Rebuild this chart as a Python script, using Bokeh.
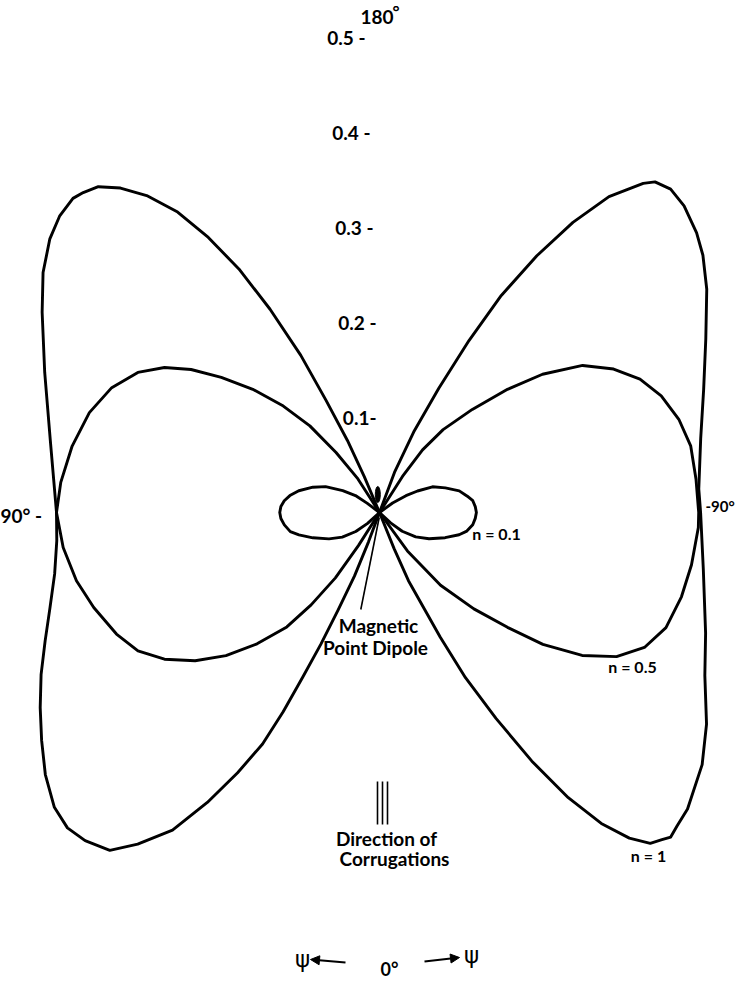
import math
from bokeh.plotting import figure
from bokeh.models import Range1d, Arrow, NormalHead
from bokeh.core.properties import value
from bokeh.embed import file_html
from bokeh.resources import INLINE

# ---------------- data: psi in degrees (0 deg = down, +90 = left, -90 = right), r = radial value
n1_left_psi = [157.5, 157.0, 156.0, 154.5, 153.4, 151.7, 150.0, 148.1, 146.1, 143.7, 141.4, 139.2,
               137.2, 135.7, 132.8, 129.7, 125.5, 120.7, 112.7, 102.5, 90.0, 85.0, 79.3, 73.9,
               69.0, 64.4, 60.1, 56.0, 51.9, 47.8, 44.7, 41.9, 38.6, 36.1, 33.1, 30.7, 28.6,
               26.8, 25.8, 25.0, 24.0, 23.0, 21.5, 20.5, 20.0]
n1_left_r = [0.0, 0.041, 0.083, 0.131, 0.185, 0.243, 0.296, 0.341, 0.381, 0.414, 0.437, 0.453,
             0.459, 0.462, 0.459, 0.451, 0.435, 0.413, 0.382, 0.355, 0.340, 0.341, 0.348, 0.361,
             0.377, 0.395, 0.412, 0.429, 0.447, 0.462, 0.467, 0.464, 0.455, 0.432, 0.399, 0.355, 0.312,
             0.273, 0.233, 0.191, 0.152, 0.112, 0.072, 0.033, 0.0]

n1_right_psi = [-160.0, -159.5, -157.0, -154.5, -152.5, -150.7, -148.5, -146.3, -144.0, -141.3, -140.2,
                -138.0, -135.2, -131.4, -128.5, -124.3, -118.0, -110.8, -103.0, -94.2, -90.0, -80.1,
                -69.7, -63.4, -57.1, -52.0, -46.1, -43.5, -41.9, -40.8, -39.3, -37.5, -35.5, -33.5,
                -31.5, -29.5, -27.5, -26.0, -23.0, -22.0, -21.0]
n1_right_r = [0.0, 0.045, 0.092, 0.145, 0.204, 0.262, 0.317, 0.367, 0.411, 0.444, 0.453,
              0.458, 0.455, 0.445, 0.435, 0.417, 0.389, 0.365, 0.347, 0.337, 0.338, 0.346,
              0.366, 0.383, 0.410, 0.431, 0.450, 0.455, 0.459, 0.455, 0.450, 0.432, 0.402, 0.360,
              0.307, 0.249, 0.196, 0.146, 0.078, 0.041, 0.0]

n05_left_psi = [148.5, 147.3, 144.1, 141.2, 137.9, 134.2, 130.5, 127.2, 124.0, 120.1, 115.0, 109.0,
                102.2, 95.4, 90.0, 83.7, 77.3, 71.6, 65.2, 60.2, 55.7, 51.2, 47.0, 43.0, 39.0,
                36.5, 34.0, 32.5, 32.0]
n05_left_r = [0.0, 0.042, 0.078, 0.117, 0.151, 0.186, 0.219, 0.249, 0.273, 0.294, 0.311, 0.323,
              0.331, 0.337, 0.340, 0.335, 0.327, 0.317, 0.305, 0.293, 0.274, 0.249, 0.221, 0.189, 0.155,
              0.121, 0.083, 0.041, 0.0]

n05_right_psi = [-148.5, -147.5, -145.5, -142.5, -138.0, -133.9, -130.3, -125.9, -121.5, -117.1, -112.5,
                 -107.3, -102.1, -96.0, -90.0, -87.3, -80.5, -74.4, -68.1, -63.0, -58.7, -54.8, -51.1,
                 -48.1, -44.4, -40.0, -36.0, -34.5]
n05_right_r = [0.0, 0.045, 0.080, 0.110, 0.146, 0.187, 0.225, 0.264, 0.289, 0.308, 0.321,
               0.330, 0.335, 0.335, 0.336, 0.336, 0.333, 0.330, 0.325, 0.313, 0.292, 0.261, 0.221,
               0.181, 0.142, 0.100, 0.050, 0.0]

n01_left_psi = [128.0, 126.9, 125.2, 120.7, 115.6, 110.8, 105.1, 100.7, 97.0, 93.5, 90.0, 86.5, 82.6,
                77.9, 74.5, 69.2, 62.4, 56.5, 51.3, 47.5, 46.0]
n01_left_r = [0.0, 0.016, 0.031, 0.045, 0.063, 0.075, 0.088, 0.096, 0.101, 0.104, 0.105, 0.104, 0.101,
              0.096, 0.088, 0.075, 0.060, 0.047, 0.032, 0.017, 0.0]

n01_right_psi = [-128.0, -126.0, -122.4, -119.5, -115.9, -110.5, -105.2, -100.5, -97.2, -93.5, -90.0,
                 -86.5, -82.5, -78.0, -74.4, -69.0, -62.1, -56.0, -50.4, -47.0, -45.0]
n01_right_r = [0.0, 0.017, 0.033, 0.046, 0.062, 0.074, 0.087, 0.094, 0.099, 0.101, 0.102,
               0.101, 0.099, 0.094, 0.087, 0.074, 0.059, 0.046, 0.031, 0.016, 0.0]

radial_ticks = [0.1, 0.2, 0.3, 0.4, 0.5]
radial_tick_labels = ["0.1-", "0.2 -", "0.3 -", "0.4 -", "0.5 -"]
curve_labels = ["n = 0.1", "n = 0.5", "n = 1"]

# ---------------- layout
W, H = 735, 981
SCALE = 950.0            # pixels per radial unit
CX, CY = 387, 520        # centre in page pixels
OFF = 8                  # page margin


def px(X, Y):
    return (X - CX) / SCALE, (CY - Y) / SCALE


def to_xy(psi, r):
    xs = [-ri * math.sin(math.radians(a)) for a, ri in zip(psi, r)]
    ys = [-ri * math.cos(math.radians(a)) for a, ri in zip(psi, r)]
    return xs, ys


p = figure(width=W, height=H, output_backend="svg", toolbar_location=None,
           x_range=Range1d((OFF - CX) / SCALE, (OFF + W - CX) / SCALE),
           y_range=Range1d((CY - OFF - H) / SCALE, (CY - OFF) / SCALE),
           x_axis_location=None, y_axis_location=None, min_border=0)
p.grid.visible = False
p.outline_line_color = None
p.background_fill_color = "white"
p.border_fill_color = "white"

LW = 2.9
for psi, r in [(n1_left_psi, n1_left_r), (n1_right_psi, n1_right_r),
               (n05_left_psi, n05_left_r), (n05_right_psi, n05_right_r),
               (n01_left_psi, n01_left_r), (n01_right_psi, n01_right_r)]:
    xs, ys = to_xy(psi, r)
    p.line(xs, ys, line_color="black", line_width=LW, line_join="round", line_cap="round")

# tiny lobe above the dipole
bx, by = px(385.3, 502)
p.ellipse(x=[bx], y=[by], width=[5 / SCALE], height=[16 / SCALE], fill_color="black", line_color="black")

FONT = value("Lato")

# radial tick labels
tick_right_px = [384, 384, 381, 378, 373]
p.text(x=[(X - CX) / SCALE for X in tick_right_px], y=radial_ticks, text=radial_tick_labels,
       text_font=FONT, text_font_style="bold", text_font_size="19px",
       text_align="right", text_baseline="middle", text_color="black")


def label(X, Y, txt, size="19px", align="center", font=FONT, style="bold", baseline="middle"):
    x, y = px(X, Y)
    p.text(x=[x], y=[y], text=[txt], text_font=font, text_font_style=style,
           text_font_size=size, text_align=align, text_baseline=baseline, text_color="black")


label(368, 24, "180", align="left")
label(400, 8, "°", size="17px", align="left", baseline="top")
label(8, 523, "90° -", align="left")
label(713, 513, "-90°", size="15px", align="left")

label(504, 541, curve_labels[0], size="16px")
label(640, 674, curve_labels[1], size="16px")
label(656, 863, curve_labels[2], size="16px")

label(386, 633, "Magnetic")
label(383, 655, "Point Dipole")
label(394, 846, "Direction of")
label(402, 866, "Corrugations")

# pointer line to the dipole
x0, y0 = px(386.7, 525)
x1, y1 = px(368.3, 617)
p.segment(x0=[x0], y0=[y0], x1=[x1], y1=[y1], line_color="black", line_width=1.6)

# corrugation symbol
for X in (385, 390, 395):
    a0, b0 = px(X, 789)
    a1, b1 = px(X, 832)
    p.segment(x0=[a0], y0=[b0], x1=[a1], y1=[b1], line_color="black", line_width=1.6)

# psi arrows
PSI_FONT = value("DejaVu Sans")
label(310, 966, "ψ", size="23px", font=PSI_FONT, style="normal")
label(479, 962, "ψ", size="23px", font=PSI_FONT, style="normal")
sx, sy = px(353, 970)
ex, ey = px(318, 967)
p.add_layout(Arrow(end=NormalHead(size=9, fill_color="black", line_color="black"),
                   x_start=sx, y_start=sy, x_end=ex, y_end=ey, line_width=2, line_color="black"))
sx, sy = px(432, 969)
ex, ey = px(467, 965)
p.add_layout(Arrow(end=NormalHead(size=9, fill_color="black", line_color="black"),
                   x_start=sx, y_start=sy, x_end=ex, y_end=ey, line_width=2, line_color="black"))
label(397, 976, "0°", size="18px")

open("out.html", "w").write(file_html(p, INLINE))
